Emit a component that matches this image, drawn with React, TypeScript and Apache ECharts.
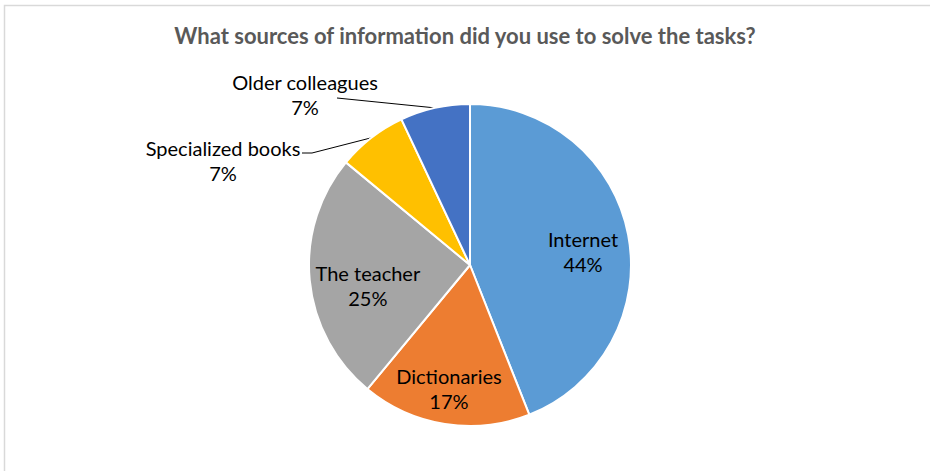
import React, { useEffect, useRef } from "react";
import * as echarts from "echarts";

const categories = ["Internet", "Dictionaries", "The teacher", "Specialized books", "Older colleagues"];
const values = [44, 17, 25, 7, 7];
const colors = ["#5B9BD5", "#ED7D31", "#A5A5A5", "#FFC000", "#4472C4"];
const titleText = "What sources of information did you use to solve the tasks?";

// label placement (style, not data)
const insideOffsets: Record<string, number[]> = {
  Internet: [31, 2],
  Dictionaries: [-8, 41],
  "The teacher": [-19, 13],
};
// outside labels: label center, and extra leader-line points before the slice point
const outsideLayout: Record<string, { pos: number[]; line: number[][] }> = {
  "Specialized books": { pos: [223, 160.5], line: [[302, 153], [312, 153]] },
  "Older colleagues": { pos: [305, 94.5], line: [[337, 98]] },
};

export default function App() {
  const ref = useRef<HTMLDivElement>(null);
  useEffect(() => {
    document.body.style.margin = "0";
    const chart = echarts.init(ref.current!, null, { renderer: "svg" });
    const data = categories.map((name, i) => {
      const inside = insideOffsets[name];
      return {
        name,
        value: values[i],
        itemStyle: { color: colors[i] },
        label: inside
          ? { position: "inside", offset: inside }
          : { position: "outside" },
        labelLine: inside ? { show: false } : { show: true, length: 10, length2: 20 },
      };
    });
    chart.setOption({
      animation: false,
      title: {
        text: titleText,
        left: "center",
        top: 19,
        textStyle: { fontFamily: "Lato", fontSize: 22, fontWeight: "bold", color: "#595959" },
      },
      graphic: [
        {
          type: "rect",
          shape: { x: 4.5, y: 5.5, width: 1000, height: 1000 },
          style: { fill: "none", stroke: "#d9d9d9", lineWidth: 1.5 },
          silent: true,
        },
      ],
      series: [
        {
          type: "pie",
          center: [470, 265],
          radius: [0, 161],
          startAngle: 90,
          clockwise: true,
          avoidLabelOverlap: false,
          itemStyle: { borderColor: "#fff", borderWidth: 2 },
          label: {
            formatter: "{n|{b}}\n{n|{d}%}",
            fontFamily: "Lato",
            fontSize: 20,
            lineHeight: 25,
            color: "#000",
            align: "center",
            rich: {
              n: {
                fontFamily: "Lato",
                fontSize: 20,
                lineHeight: 25,
                color: "#000",
                align: "center",
              },
            },
          },
          labelLine: {
            lineStyle: { color: "#000", width: 1 },
          },
          labelLayout: (params: any) => {
            const name = categories[params.dataIndex];
            const o = outsideLayout[name];
            if (!o) return { hideOverlap: false };
            const p0 = params.labelLinePoints ? params.labelLinePoints[0] : null;
            const pts = p0 ? [...o.line, p0] : undefined;
            return {
              x: o.pos[0],
              y: o.pos[1],
              align: "center",
              verticalAlign: "middle",
              hideOverlap: false,
              labelLinePoints: pts,
            };
          },
          data,
        },
      ],
    });
    return () => chart.dispose();
  }, []);
  return <div ref={ref} style={{ width: 930, height: 471 }} />;
}
